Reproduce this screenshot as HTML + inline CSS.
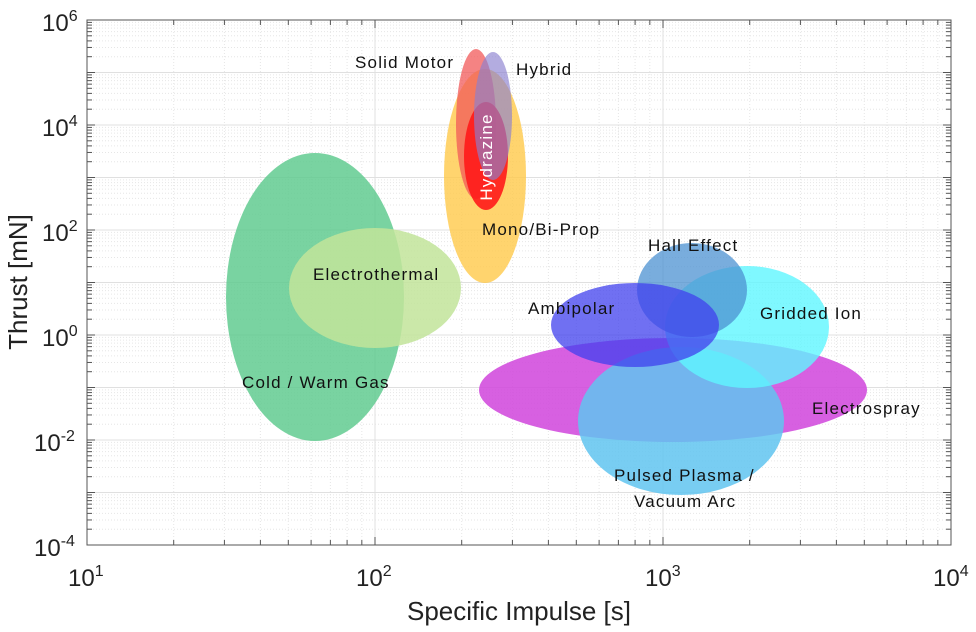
<!DOCTYPE html>
<html><head><meta charset="utf-8"><style>
html,body{margin:0;padding:0;background:#fff;}
svg{display:block;}
.t{font-family:"Liberation Sans",sans-serif;fill:#222;}
.l{font-family:"Liberation Sans",sans-serif;font-size:17px;letter-spacing:1.2px;fill:#111;}
</style></head><body>
<svg id="s" width="976" height="632" viewBox="0 0 976 632" xmlns="http://www.w3.org/2000/svg">
<rect width="976" height="632" fill="#fff"/>
<g id="grid"></g>
<g>
<ellipse cx="315" cy="297" rx="89" ry="144" fill="#5cc98c" opacity="0.82"/>
<ellipse cx="375" cy="288" rx="86" ry="60" fill="#c2e49a" opacity="0.85"/>
<ellipse cx="485" cy="176" rx="41" ry="107" fill="#ffc94a" opacity="0.8"/>
<ellipse cx="476" cy="124" rx="20" ry="75" fill="#f25a5a" opacity="0.75"/>
<ellipse cx="486" cy="156" rx="22" ry="54" fill="#ff1a1a" opacity="0.9"/>
<ellipse cx="493" cy="116" rx="19" ry="64" fill="#8a7fd0" opacity="0.65"/>
<ellipse cx="673" cy="390" rx="194" ry="52" fill="#d044dc" opacity="0.85"/>
<ellipse cx="681" cy="421" rx="103" ry="74" fill="#60c4f0" opacity="0.85"/>
<ellipse cx="747" cy="327" rx="82" ry="61" fill="#5ff6ff" opacity="0.8"/>
<ellipse cx="692" cy="290" rx="55" ry="47" fill="#4c92d2" opacity="0.75"/>
<ellipse cx="635" cy="325" rx="84" ry="42" fill="#4040ee" opacity="0.75"/>
</g>
<rect x="87" y="20" width="864" height="525" fill="none" stroke="#555" stroke-width="1"/>
<g id="ticks"></g>
<text class="l" x="355" y="68">Solid Motor</text>
<text class="l" x="516" y="75">Hybrid</text>
<text class="l" x="482" y="235">Mono/Bi-Prop</text>
<text class="l" x="648" y="251">Hall Effect</text>
<text class="l" x="313" y="280">Electrothermal</text>
<text class="l" x="528" y="314">Ambipolar</text>
<text class="l" x="760" y="319">Gridded Ion</text>
<text class="l" x="242" y="388">Cold / Warm Gas</text>
<text class="l" x="812" y="414">Electrospray</text>
<text class="l" x="614" y="481">Pulsed Plasma /</text>
<text class="l" x="634" y="507">Vacuum Arc</text>
<text class="l" transform="translate(492,157) rotate(-90)" text-anchor="middle" style="fill:#fff">Hydrazine</text>
<g class="t" font-size="24">
<text x="42" y="31">10<tspan font-size="16" dy="-10">6</tspan></text>
<text x="42" y="136">10<tspan font-size="16" dy="-10">4</tspan></text>
<text x="42" y="241">10<tspan font-size="16" dy="-10">2</tspan></text>
<text x="42" y="346">10<tspan font-size="16" dy="-10">0</tspan></text>
<text x="34" y="451">10<tspan font-size="16" dy="-10">-2</tspan></text>
<text x="34" y="556">10<tspan font-size="16" dy="-10">-4</tspan></text>
<text x="68" y="586">10<tspan font-size="16" dy="-10">1</tspan></text>
<text x="356" y="586">10<tspan font-size="16" dy="-10">2</tspan></text>
<text x="645" y="586">10<tspan font-size="16" dy="-10">3</tspan></text>
<text x="933" y="586">10<tspan font-size="16" dy="-10">4</tspan></text>
<text x="519" y="620" text-anchor="middle" font-size="26">Specific Impulse [s]</text>
<text transform="translate(27,282) rotate(-90)" text-anchor="middle" font-size="26">Thrust [mN]</text>
</g>
</svg>
<script>
var L=87,R=951,T=20,B=545,g=document.getElementById('grid'),tk=document.getElementById('ticks'),ns='http://www.w3.org/2000/svg';
function ln(p,x1,y1,x2,y2,c,d){var e=document.createElementNS(ns,'line');e.setAttribute('x1',x1);e.setAttribute('y1',y1);e.setAttribute('x2',x2);e.setAttribute('y2',y2);e.setAttribute('stroke',c);e.setAttribute('stroke-width',1);if(d)e.setAttribute('stroke-dasharray',d);p.appendChild(e);}
var dx=(R-L)/3,dy=(B-T)/10;
for(var d=0;d<3;d++)for(var k=1;k<10;k++){var x=L+dx*(d+Math.log10(k));if(k==1){ln(g,x,T,x,B,'#e0e0e0');ln(tk,x,B,x,B-8,'#555');ln(tk,x,T,x,T+8,'#555');}else{ln(g,x,T,x,B,'#e6e6e6','1,2');ln(tk,x,B,x,B-5,'#555');ln(tk,x,T,x,T+5,'#555');}}
for(var d=0;d<10;d++)for(var k=1;k<10;k++){var y=B-dy*(d+Math.log10(k));if(k==1){ln(g,L,y,R,y,'#e0e0e0');ln(tk,L,y,L+8,y,'#555');ln(tk,R,y,R-8,y,'#555');}else{ln(g,L,y,R,y,'#e6e6e6','1,2');ln(tk,L,y,L+5,y,'#555');ln(tk,R,y,R-5,y,'#555');}}
</script>
</body></html>
